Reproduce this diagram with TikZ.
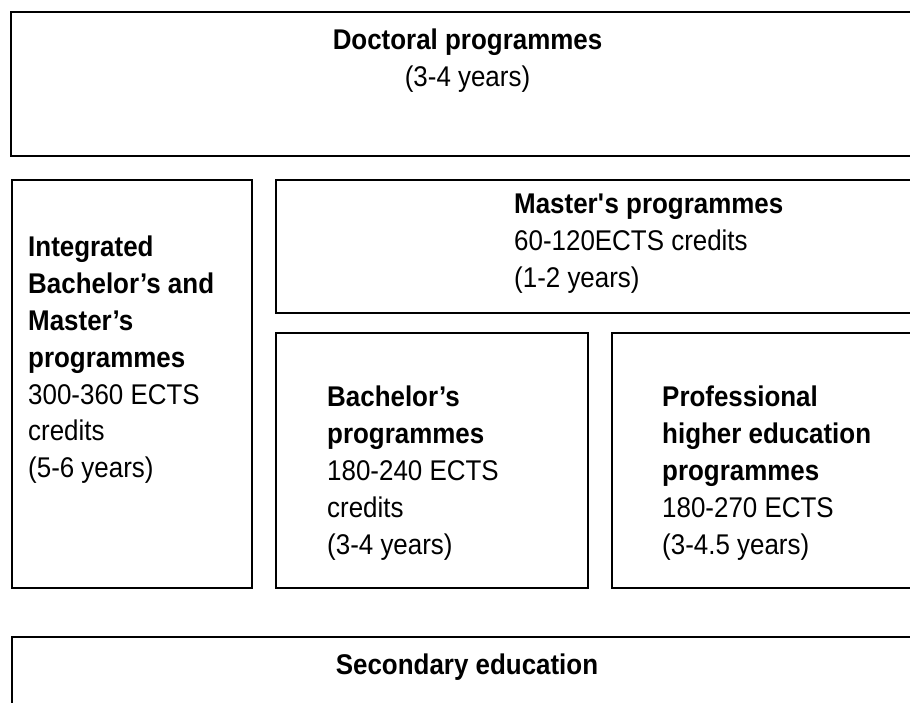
\documentclass[tikz,border=0pt]{standalone}
\usepackage{fontspec}
\setmainfont{Liberation Sans}[FakeStretch=0.91]
\usepackage{tikz}
\tikzset{
  levelbox/.style={draw, line width=1.8pt, rectangle, inner sep=0pt, anchor=north west},
  boxtext/.style={inner sep=0pt, align=left, font=\fontsize{28.5pt}{36.8pt}\selectfont},
}

\begin{document}
\begin{tikzpicture}[x=1pt, y=-1pt]
\useasboundingbox (0,0) rectangle (910,702);
\clip (0,0) rectangle (910,702);

% Doctoral level
\node[levelbox, minimum width=940pt, minimum height=144pt] (doc) at (10,11) {};
\node[boxtext, anchor=north, align=center] (doctxt) at (467.5,29)
  {\textbf{Doctoral programmes}\\(3-4 years)};

% Integrated programmes
\node[levelbox, minimum width=240pt, minimum height=408pt] (integ) at (11,179) {};
\node[boxtext, anchor=north west] (integtxt) at (28,236)
  {\textbf{Integrated}\\\textbf{Bachelor’s and}\\\textbf{Master’s}\\\textbf{programmes}\\300-360 ECTS\\credits\\(5-6 years)};

% Master's programmes
\node[levelbox, minimum width=675pt, minimum height=133pt] (master) at (275,179) {};
\node[boxtext, anchor=north west] (mastertxt) at (514,194)
  {\textbf{Master\textquotesingle s programmes}\\60-120ECTS credits\\(1-2 years)};

% Bachelor's programmes
\node[levelbox, minimum width=312pt, minimum height=255pt] (bach) at (275,332) {};
\node[boxtext, anchor=north west] (bachtxt) at (327,386)
  {\textbf{Bachelor’s}\\\textbf{programmes}\\180-240 ECTS\\credits\\(3-4 years)};

% Professional higher education
\node[levelbox, minimum width=339pt, minimum height=255pt] (prof) at (611,332) {};
\node[boxtext, anchor=north west] (proftxt) at (662,386)
  {\textbf{Professional}\\\textbf{higher education}\\\textbf{programmes}\\180-270 ECTS\\(3-4.5 years)};

% Secondary level
\node[levelbox, minimum width=939pt, minimum height=120pt] (sec) at (11,636) {};
\node[boxtext, anchor=north] (sectxt) at (467,654) {\textbf{Secondary education}};
\end{tikzpicture}
\end{document}
